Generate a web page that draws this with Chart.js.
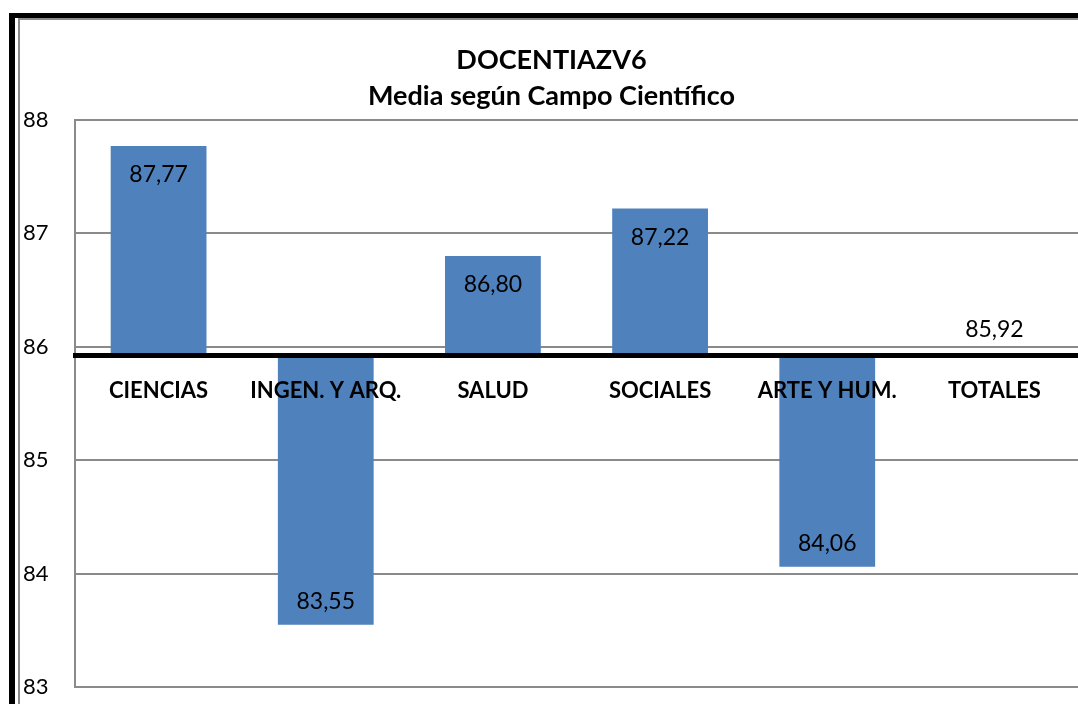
<!DOCTYPE html>
<html>
<head>
<meta charset="utf-8">
<script src="https://cdn.jsdelivr.net/npm/chart.js@4"></script>
<style>
  html, body { margin: 0; padding: 0; background: #fff; }
  #wrap { position: relative; width: 1078px; height: 704px; }
</style>
</head>
<body>
<div id="wrap"><canvas id="c" width="1078" height="704"></canvas></div>
<script>
const categories = ['CIENCIAS', 'INGEN. Y ARQ.', 'SALUD', 'SOCIALES', 'ARTE Y HUM.', 'TOTALES'];
const values = [87.77, 83.55, 86.80, 87.22, 84.06, 85.92];
const baseline = 85.92;
const titleLines = ['DOCENTIAZV6', 'Media según Campo Científico'];
const yMin = 83, yMax = 88, yStep = 1;

const FONT = "Lato, 'Open Sans', sans-serif";

const framePlugin = {
  id: 'frame',
  beforeDraw(chart) {
    const ctx = chart.ctx;
    ctx.save();
    ctx.fillStyle = '#fff';
    ctx.fillRect(0, 0, chart.width, chart.height);
    ctx.fillStyle = '#000';
    ctx.fillRect(9, 13, 6, chart.height - 13);
    ctx.fillRect(9, 13, chart.width - 9, 5);
    ctx.fillStyle = '#8a8a8a';
    ctx.fillRect(18, 18, 2, chart.height - 18);
    ctx.fillRect(18, 18, chart.width - 18, 2);
    ctx.restore();
  }
};

const labelPlugin = {
  id: 'valueLabels',
  afterDraw(chart) {
    const ctx = chart.ctx;
    const meta = chart.getDatasetMeta(0);
    const ys = chart.scales.y;
    ctx.save();
    ctx.font = "23px " + FONT;
    ctx.fillStyle = '#000';
    ctx.textAlign = 'center';
    ctx.textBaseline = 'middle';
    meta.data.forEach((el, i) => {
      const v = values[i];
      const txt = v.toFixed(2).replace('.', ',');
      const end = ys.getPixelForValue(v);
      let y;
      if (v > baseline) y = end + 29;
      else if (v < baseline) y = end - 23;
      else y = end - 26;
      ctx.fillText(txt, el.x, y);
    });
    ctx.restore();
  }
};

new Chart(document.getElementById('c'), {
  type: 'bar',
  data: {
    labels: categories,
    datasets: [{
      data: values.map(v => [baseline, v]),
      backgroundColor: '#4F81BD',
      borderWidth: 0,
      categoryPercentage: 1,
      barPercentage: 0.573
    }]
  },
  options: {
    responsive: false,
    animation: false,
    devicePixelRatio: 1,
    layout: { padding: { left: 23, right: -2, top: 0, bottom: 17 } },
    plugins: {
      legend: { display: false },
      tooltip: { enabled: false },
      title: {
        display: true,
        text: titleLines,
        color: '#000',
        font: { family: FONT, size: 27, weight: 'bold', lineHeight: 1.333 },
        padding: { top: 42, bottom: 6 }
      }
    },
    scales: {
      x: {
        position: { y: baseline },
        grid: { display: false, drawTicks: false },
        border: { display: true, color: '#000', width: 5, z: 1 },
        ticks: {
          z: 1,
          color: '#000',
          font: { family: FONT, size: 22, weight: 'bold' },
          padding: 22,
          maxRotation: 0,
          autoSkip: false
        }
      },
      y: {
        min: yMin,
        max: yMax,
        grid: { color: '#8a8a8a', lineWidth: 2, drawTicks: false },
        border: { display: true, color: '#8a8a8a', width: 2 },
        ticks: {
          stepSize: yStep,
          color: '#000',
          crossAlign: 'far',
          padding: 0,
          font: { family: FONT, size: 22 },
          callback: v => String(v)
        },
        afterFit(scale) { scale.width = 52; }
      }
    }
  },
  plugins: [framePlugin, labelPlugin]
});
</script>
</body>
</html>
